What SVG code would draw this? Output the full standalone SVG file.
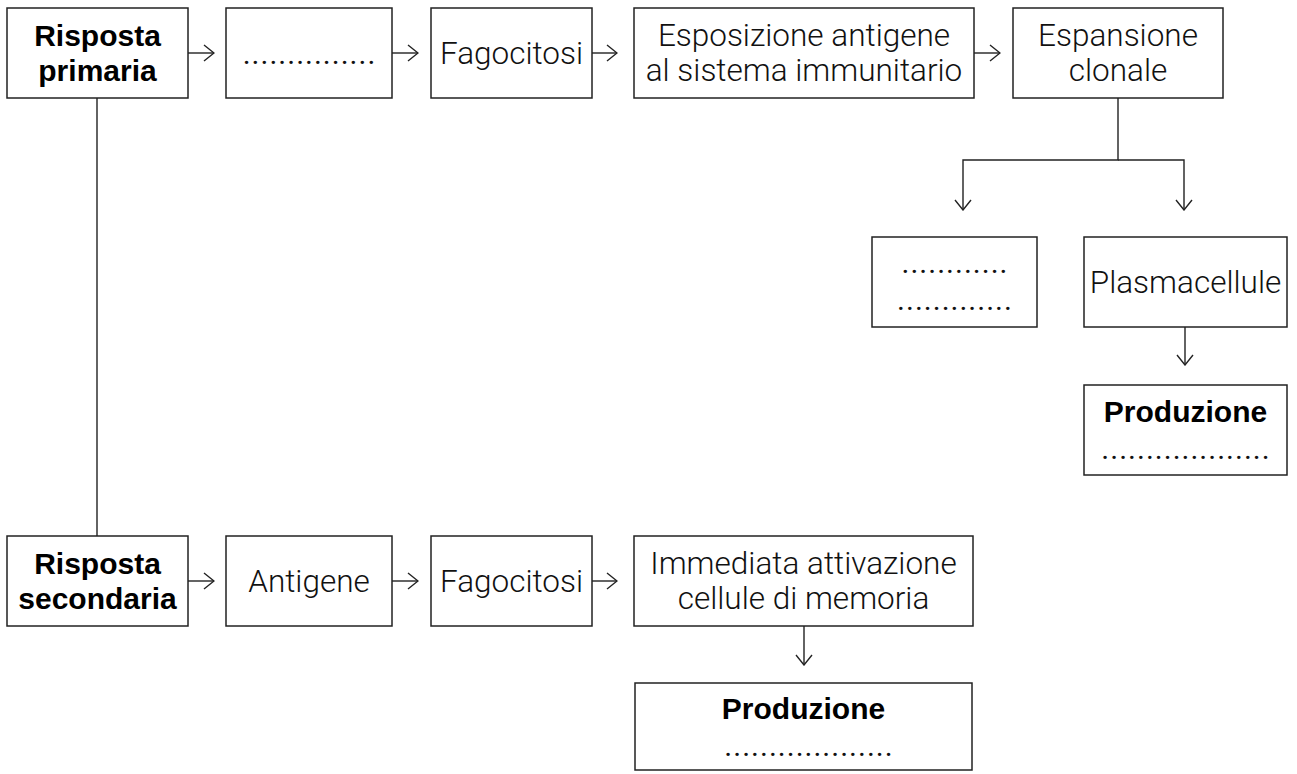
<svg xmlns="http://www.w3.org/2000/svg" width="1297" height="774" viewBox="0 0 1297 774">
<defs>
<style>
.box{fill:#fff;stroke:#222;stroke-width:1.5}
.t{font-family:Roboto,"Liberation Sans",sans-serif;font-weight:300;font-size:31.5px;fill:#111;text-anchor:middle}
.d{font-family:Roboto,"Liberation Sans",sans-serif;font-weight:400;font-size:30px;fill:#111;text-anchor:middle;letter-spacing:1px}
.b{font-family:"Liberation Sans",Arial,sans-serif;font-weight:bold;font-size:30px;fill:#000;text-anchor:middle}
.c{fill:none;stroke:#222;stroke-width:1.4}
</style>
<marker id="ah" viewBox="0 0 12 18" refX="11" refY="9" markerWidth="12" markerHeight="18" markerUnits="userSpaceOnUse" orient="auto">
<path d="M1,1 L11,9 L1,17" fill="none" stroke="#222" stroke-width="1.4"/>
</marker>
</defs>
<rect width="1297" height="774" fill="#fff"/>
<g id="connectors">
<line class="c" x1="97" y1="98" x2="97" y2="536"/>
<line class="c" x1="188" y1="53" x2="214" y2="53" marker-end="url(#ah)"/>
<line class="c" x1="392" y1="53" x2="418" y2="53" marker-end="url(#ah)"/>
<line class="c" x1="592" y1="53" x2="617" y2="53" marker-end="url(#ah)"/>
<line class="c" x1="974" y1="53" x2="1000" y2="53" marker-end="url(#ah)"/>
<polyline class="c" points="1118,98 1118,160 963,160 963,210" marker-end="url(#ah)"/>
<polyline class="c" points="1118,160 1184,160 1184,210" marker-end="url(#ah)"/>
<line class="c" x1="1185" y1="327" x2="1185" y2="365" marker-end="url(#ah)"/>
<line class="c" x1="188" y1="581" x2="214" y2="581" marker-end="url(#ah)"/>
<line class="c" x1="392" y1="581" x2="418" y2="581" marker-end="url(#ah)"/>
<line class="c" x1="592" y1="581" x2="617" y2="581" marker-end="url(#ah)"/>
<line class="c" x1="804" y1="626" x2="804" y2="665" marker-end="url(#ah)"/>
</g>
<g id="risposta-primaria">
<rect class="box" x="7" y="8" width="181" height="90"/>
<text class="b" x="97.5" y="46">Risposta</text>
<text class="b" x="97.5" y="81">primaria</text>
</g>
<g id="blank1">
<rect class="box" x="226" y="8" width="166" height="90"/>
<text class="d" x="309.5" y="63.5">...............</text>
</g>
<g id="fagocitosi1">
<rect class="box" x="431" y="8" width="161" height="90"/>
<text class="t" x="511.5" y="64">Fagocitosi</text>
</g>
<g id="esposizione">
<rect class="box" x="634" y="8" width="340" height="90"/>
<text class="t" x="804" y="46">Esposizione antigene</text>
<text class="t" x="804" y="81">al sistema immunitario</text>
</g>
<g id="espansione">
<rect class="box" x="1013" y="8" width="210" height="90"/>
<text class="t" x="1118" y="46">Espansione</text>
<text class="t" x="1118" y="81">clonale</text>
</g>
<g id="blank2">
<rect class="box" x="872" y="237" width="165" height="90"/>
<text class="d" x="955" y="273">............</text>
<text class="d" x="955" y="310">.............</text>
</g>
<g id="plasmacellule">
<rect class="box" x="1084" y="237" width="203" height="90"/>
<text class="t" x="1185.5" y="293">Plasmacellule</text>
</g>
<g id="produzione1">
<rect class="box" x="1084" y="385" width="203" height="90"/>
<text class="b" x="1185.5" y="422">Produzione</text>
<text class="d" x="1186" y="459">...................</text>
</g>
<g id="risposta-secondaria">
<rect class="box" x="7" y="536" width="181" height="90"/>
<text class="b" x="97.5" y="574">Risposta</text>
<text class="b" x="97.5" y="609">secondaria</text>
</g>
<g id="antigene">
<rect class="box" x="226" y="536" width="166" height="90"/>
<text class="t" x="309" y="592">Antigene</text>
</g>
<g id="fagocitosi2">
<rect class="box" x="431" y="536" width="161" height="90"/>
<text class="t" x="511.5" y="592">Fagocitosi</text>
</g>
<g id="immediata">
<rect class="box" x="634" y="536" width="339" height="90"/>
<text class="t" x="803.5" y="574">Immediata attivazione</text>
<text class="t" x="803.5" y="609">cellule di memoria</text>
</g>
<g id="produzione2">
<rect class="box" x="635" y="683" width="337" height="87"/>
<text class="b" x="803.5" y="719">Produzione</text>
<text class="d" x="809" y="756">...................</text>
</g>
</svg>
